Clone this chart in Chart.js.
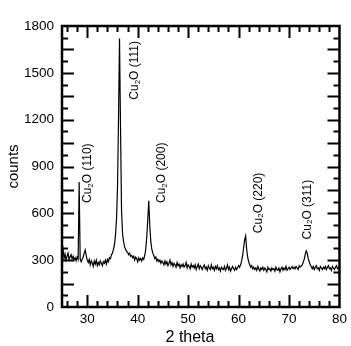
<!DOCTYPE html>
<html>
<head>
<meta charset="utf-8">
<script src="https://cdn.jsdelivr.net/npm/chart.js@4.4.1/dist/chart.umd.min.js"></script>
<style>
  html, body { margin: 0; padding: 0; background: #fff; }
  canvas { display: block; }
</style>
</head>
<body>
<canvas id="xrdChart" width="351" height="346"></canvas>
<script>
/* XRD pattern, Cu2O film */

// scan: 25.0 -> 80.0 deg, 0.2 deg step
const SCAN_START = 25;
const SCAN_STEP = 0.2;

// counts, one row per 2 deg
const counts = [
  330, 370, 310, 340, 300, 325, 345, 305, 320, 335,   // 25
  310, 325, 300, 315, 295, 320, 305, 800, 310, 290,   // 27
  305, 320, 345, 365, 330, 300, 285, 305, 270, 295,   // 29
  280, 260, 295, 275, 300, 265, 285, 270, 295, 280,   // 31
  265, 290, 280, 300, 275, 305, 290, 315, 310, 335,   // 33
  345, 370, 400, 460, 560, 760, 1200, 1720, 1150, 620, // 35
  470, 420, 385, 370, 355, 350, 335, 345, 325, 330,   // 37
  315, 325, 300, 320, 310, 290, 315, 300, 310, 295,   // 39
  315, 305, 330, 370, 450, 560, 680, 520, 420, 370,   // 41
  345, 330, 310, 320, 295, 305, 290, 300, 280, 295,   // 43
  285, 270, 295, 275, 290, 265, 280, 300, 270, 285,   // 45
  260, 280, 270, 255, 285, 265, 275, 250, 270, 260,   // 47
  275, 255, 265, 285, 250, 270, 260, 245, 275, 255,   // 49
  265, 250, 270, 240, 260, 275, 245, 265, 255, 240,   // 51
  260, 270, 245, 255, 235, 265, 250, 240, 270, 245,   // 53
  255, 235, 260, 245, 265, 240, 250, 230, 255, 245,   // 55
  240, 260, 235, 250, 270, 240, 255, 230, 245, 260,   // 57
  245, 235, 255, 240, 250, 265, 255, 270, 295, 330,   // 59
  380, 430, 455, 370, 320, 290, 270, 255, 265, 245,   // 61
  255, 240, 250, 235, 260, 245, 230, 250, 240, 255,   // 63
  235, 250, 240, 225, 255, 240, 245, 230, 250, 240,   // 65
  245, 230, 255, 240, 235, 250, 225, 245, 255, 235,   // 67
  250, 240, 260, 235, 245, 255, 240, 250, 260, 245,   // 69
  255, 245, 260, 250, 240, 265, 255, 260, 270, 285,   // 71
  305, 335, 360, 345, 310, 290, 270, 260, 245, 260,   // 73
  240, 255, 265, 245, 250, 235, 260, 250, 240, 255,   // 75
  245, 260, 240, 255, 265, 245, 250, 235, 260, 250,   // 77
  240, 255, 265, 245, 250, 260                        // 79
];

const xTicks = [30, 40, 50, 60, 70, 80];
const yTicks = [0, 300, 600, 900, 1200, 1500, 1800];

// peak annotations (rotated), anchored at their lower end
const peakNames = ['(110)', '(111)', '(200)', '(220)', '(311)'];
const peakLabelX = [30.1, 39.5, 44.7, 63.9, 73.6];
const peakLabelY = [666, 1328, 666, 473, 433];

const FONT = "'Liberation Sans', Arial, Helvetica, sans-serif";

const points = counts.map((c, i) => ({ x: +(SCAN_START + i * SCAN_STEP).toFixed(1), y: c }));

/* ── frame, inward ticks, labels ── */
const decorations = {
  id: 'decorations',
  afterDraw(chart) {
    const { ctx, chartArea: a, scales: { x, y } } = chart;
    ctx.save();
    ctx.strokeStyle = '#000';
    ctx.fillStyle = '#000';

    // ticks on all four sides
    ctx.lineWidth = 2;
    ctx.beginPath();
    for (let v = 26; v < 80; v += 2) {
      const len = v % 10 === 0 ? 12 : 6;
      const px = Math.round(x.getPixelForValue(v)) + 0.5;
      ctx.moveTo(px, a.bottom); ctx.lineTo(px, a.bottom - len);
      ctx.moveTo(px, a.top);    ctx.lineTo(px, a.top + len);
    }
    for (let v = 75; v < 1800; v += 75) {
      const len = v % 150 === 0 ? 12 : 6;
      const py = Math.round(y.getPixelForValue(v)) + 0.5;
      ctx.moveTo(a.left, py);  ctx.lineTo(a.left + len, py);
      ctx.moveTo(a.right, py); ctx.lineTo(a.right - len, py);
    }
    ctx.stroke();

    ctx.lineWidth = 2.5;
    ctx.strokeRect(a.left, a.top, a.right - a.left, a.bottom - a.top);

    // Cu2O peak labels
    peakNames.forEach((name, i) => {
      ctx.save();
      ctx.translate(x.getPixelForValue(peakLabelX[i]), y.getPixelForValue(peakLabelY[i]));
      ctx.rotate(-Math.PI / 2);
      ctx.textBaseline = 'middle';
      ctx.textAlign = 'left';
      let cx = 0;
      ctx.font = '12px ' + FONT;
      ctx.fillText('Cu', cx, 0);
      cx += ctx.measureText('Cu').width;
      ctx.font = '8px ' + FONT;
      ctx.fillText('2', cx, 3);
      cx += ctx.measureText('2').width;
      ctx.font = '12px ' + FONT;
      ctx.fillText('O ' + name, cx, 0);
      ctx.restore();
    });

    // axis titles
    ctx.font = '15px ' + FONT;
    ctx.textAlign = 'center';
    ctx.textBaseline = 'middle';
    ctx.save();
    ctx.translate(14, (a.top + a.bottom) / 2);
    ctx.rotate(-Math.PI / 2);
    ctx.fillText('counts', 0, 0);
    ctx.restore();

    ctx.font = '16px ' + FONT;
    ctx.fillText('2 theta', 190, 338);
    ctx.restore();
  },
};

new Chart(document.getElementById('xrdChart'), {
  type: 'line',
  data: {
    datasets: [{
      data: points,
      borderColor: '#000',
      borderWidth: 1.2,
      pointRadius: 0,
      tension: 0,
      fill: false,
    }],
  },
  options: {
    responsive: false,
    animation: false,
    layout: { padding: { top: 26, right: 9, left: 0, bottom: 0 } },
    plugins: { legend: { display: false }, tooltip: { enabled: false } },
    scales: {
      x: {
        type: 'linear',
        min: 25, max: 80,
        afterBuildTicks: s => { s.ticks = xTicks.map(v => ({ value: v })); },
        afterFit: s => { s.height = 39; },
        grid: { display: false, drawTicks: false },
        border: { display: false },
        ticks: { color: '#000', padding: 4, maxRotation: 0, callback: v => String(v),
                 font: { size: 13.5, family: FONT } },
      },
      y: {
        min: 0, max: 1800,
        afterBuildTicks: s => { s.ticks = yTicks.map(v => ({ value: v })); },
        afterFit: s => { s.width = 62; },
        grid: { display: false, drawTicks: false },
        border: { display: false },
        ticks: { color: '#000', padding: 8, callback: v => String(v),
                 font: { size: 13.5, family: FONT } },
      },
    },
  },
  plugins: [decorations],
});
</script>
</body>
</html>
